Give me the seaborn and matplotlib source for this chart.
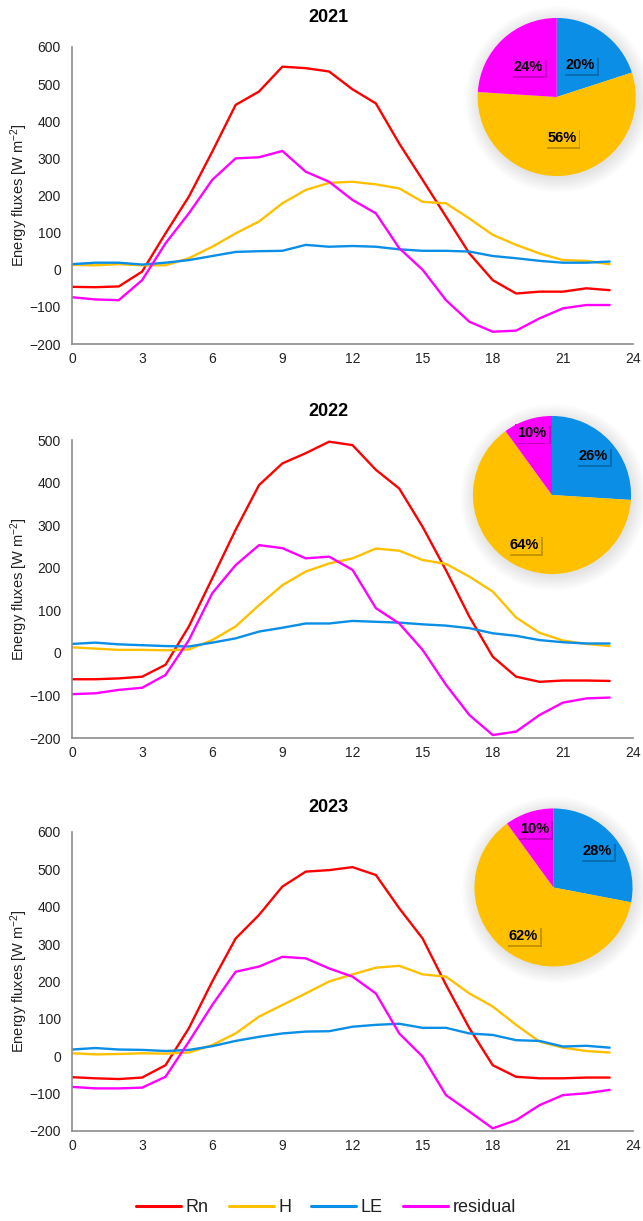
import numpy as np
import pandas as pd
import matplotlib
matplotlib.use("Agg")
import matplotlib.pyplot as plt
from matplotlib import patheffects as pe
from matplotlib.patches import Circle
import seaborn as sns

# ---- hourly mean energy fluxes (W m-2) ----
hours = list(range(24))

rn_2021 = [-46, -47, -45, -5, 98, 197, 318, 444, 480, 547, 543, 534,
           486, 448, 340, 242, 143, 44, -28, -64, -59, -59, -50, -55]
h_2021 = [13, 12, 15, 12, 12, 31, 62, 98, 130, 179, 215, 234,
          237, 230, 219, 183, 179, 138, 94, 67, 44, 26, 24, 15]
le_2021 = [15, 19, 19, 14, 19, 26, 37, 48, 50, 51, 67, 62,
           64, 62, 55, 51, 51, 49, 37, 31, 24, 19, 19, 22]
res_2021 = [-74, -80, -82, -28, 71, 152, 242, 300, 303, 320, 264, 237,
            188, 152, 58, 0, -82, -140, -167, -164, -131, -104, -95, -95]

rn_2022 = [-62, -62, -60, -56, -28, 62, 175, 289, 394, 445, 469, 496,
           488, 430, 386, 296, 194, 85, -9, -56, -68, -65, -65, -66]
h_2022 = [13, 10, 7, 7, 6, 8, 30, 62, 112, 159, 191, 210,
          222, 245, 240, 218, 209, 179, 144, 83, 47, 29, 21, 16]
le_2022 = [21, 24, 20, 18, 16, 15, 24, 34, 50, 59, 69, 69,
           75, 73, 71, 67, 64, 58, 46, 40, 30, 25, 22, 22]
res_2022 = [-97, -95, -87, -82, -52, 30, 140, 206, 253, 246, 222, 226,
            195, 105, 69, 7, -75, -146, -193, -185, -146, -117, -107, -105]

rn_2023 = [-56, -59, -61, -57, -24, 75, 200, 315, 378, 454, 494, 498,
           506, 485, 396, 315, 191, 75, -24, -55, -59, -59, -57, -57]
h_2023 = [8, 5, 6, 8, 7, 10, 30, 61, 106, 137, 168, 200,
          219, 237, 242, 219, 213, 168, 133, 84, 39, 23, 14, 10]
le_2023 = [18, 22, 18, 17, 14, 17, 27, 41, 52, 61, 66, 67,
           79, 84, 87, 76, 76, 61, 57, 43, 41, 26, 28, 23]
res_2023 = [-82, -86, -86, -84, -55, 39, 137, 226, 240, 266, 262, 235,
            213, 168, 61, -1, -104, -148, -193, -171, -131, -104, -99, -90]

# share of the energy partitioning (%): LE, H, residual
share_2021 = [20, 56, 24]
share_2022 = [26, 64, 10]
share_2023 = [28, 62, 10]

years = ["2021", "2022", "2023"]
flux_names = ["Rn", "H", "LE", "residual"]
colors = {"Rn": "#FF0000", "H": "#FFC000", "LE": "#0A8EE6", "residual": "#FF00FF"}
pie_colors = [colors["LE"], colors["H"], colors["residual"]]

series = {
    "2021": [rn_2021, h_2021, le_2021, res_2021],
    "2022": [rn_2022, h_2022, le_2022, res_2022],
    "2023": [rn_2023, h_2023, le_2023, res_2023],
}
shares = {"2021": share_2021, "2022": share_2022, "2023": share_2023}
ylims = {"2021": (-200, 600), "2022": (-200, 500), "2023": (-200, 600)}

sns.set_theme(style="white")
plt.rcParams["font.family"] = ["Liberation Sans", "DejaVu Sans"]
plt.rcParams["mathtext.fontset"] = "custom"
plt.rcParams["mathtext.rm"] = "Liberation Sans"
plt.rcParams["mathtext.it"] = "Liberation Sans:italic"

W, H = 643, 1221
fig = plt.figure(figsize=(W / 100, H / 100), dpi=100)
fig.patch.set_facecolor("white")


def fx(px):
    return px / W


def fy(py):
    return 1 - py / H


# pixel layout of each panel: (axes top, axes bottom, title y, pie centre, label distances)
layout = {
    "2021": dict(top=47, bottom=344, title=18, pie=(556.7, 97), dist=[0.50, 0.52, 0.52]),
    "2022": dict(top=440, bottom=738, title=412, pie=(552, 495), dist=[0.72, 0.72, 0.82]),
    "2023": dict(top=832, bottom=1131, title=807, pie=(553.5, 887.5), dist=[0.72, 0.72, 0.78]),
}
x_left, x_right = 72, 633
pie_r = 76
spine_col = "#8C8C8C"
text_col = "#222222"

for yr in years:
    lay = layout[yr]
    ax = fig.add_axes([fx(x_left), fy(lay["bottom"]), fx(x_right - x_left),
                       (lay["bottom"] - lay["top"]) / H])
    df = pd.concat([
        pd.DataFrame({"hour": hours, "value": vals, "flux": name})
        for name, vals in zip(flux_names, series[yr])
    ])
    sns.lineplot(data=df, x="hour", y="value", hue="flux", hue_order=flux_names,
                 palette=colors, ax=ax, linewidth=1.7, legend=False,
                 estimator=None, sort=True)
    for ln in ax.lines:
        ln.set_solid_joinstyle("round")
        ln.set_solid_capstyle("round")
    lo, hi = ylims[yr]
    ax.set_xlim(0, 24)
    ax.set_ylim(lo, hi)
    ax.set_xticks(range(0, 25, 3))
    ax.set_yticks(range(lo, hi + 1, 100))
    ax.tick_params(axis="both", length=0, labelsize=10, colors=text_col)
    ax.tick_params(axis="y", pad=8)
    ax.tick_params(axis="x", pad=6)
    ax.set_xlabel("")
    ax.set_ylabel(r"Energy fluxes [W m$^{-2}$]", fontsize=10.5, color=text_col)
    ax.yaxis.set_label_coords((30 - x_left) / (x_right - x_left), 0.5)
    for s in ["top", "right"]:
        ax.spines[s].set_visible(False)
    for s in ["left", "bottom"]:
        ax.spines[s].set_color(spine_col)
        ax.spines[s].set_linewidth(1.2)
    ax.set_facecolor("none")

    fig.text(fx(328), fy(lay["title"]), yr, ha="center", va="center",
             fontsize=13, fontweight="bold", color="black")

    # partitioning pie in the upper right corner
    cx, cy = lay["pie"]
    ext = 1.3
    side = 2 * ext * pie_r
    pax = fig.add_axes([fx(cx - side / 2), fy(cy + side / 2), side / W, side / H])
    pax.set_xlim(-ext, ext)
    pax.set_ylim(-ext, ext)
    pax.set_aspect("equal")
    pax.axis("off")
    for k in range(14):
        pax.add_patch(Circle((0.02, -0.03), 1.0 + 0.014 * k, color="black",
                             alpha=0.007, lw=0, zorder=0))
    vals = shares[yr]
    wedges, _ = pax.pie(vals, colors=pie_colors, startangle=90, counterclock=False,
                        radius=1, wedgeprops=dict(linewidth=0))
    for w in wedges:
        w.set_zorder(2)
    start = 90.0
    for v, c, d in zip(vals, pie_colors, lay["dist"]):
        mid = np.deg2rad(start - v / sum(vals) * 360 / 2)
        start -= v / sum(vals) * 360
        t = pax.text(d * np.cos(mid), d * np.sin(mid), f"{v}%", ha="center",
                     va="center", fontsize=10.5, fontweight="bold", color="black",
                     zorder=5,
                     bbox=dict(boxstyle="square,pad=0.15", fc=c, ec="none"))
        t.get_bbox_patch().set_path_effects([
            pe.SimplePatchShadow(offset=(1.3, -1.3), shadow_rgbFace="black", alpha=0.22),
            pe.Normal(),
        ])

# shared legend along the bottom
handles = [plt.Line2D([0], [0], color=colors[n], lw=2.2) for n in flux_names]
fig.legend(handles, flux_names, loc="center", bbox_to_anchor=(fx(326), fy(1208)),
           ncol=4, frameon=False, fontsize=13, handlelength=2.5,
           handletextpad=0.25, columnspacing=1.1, labelcolor=text_col)

fig.savefig("out.png", dpi=100, facecolor="white")
